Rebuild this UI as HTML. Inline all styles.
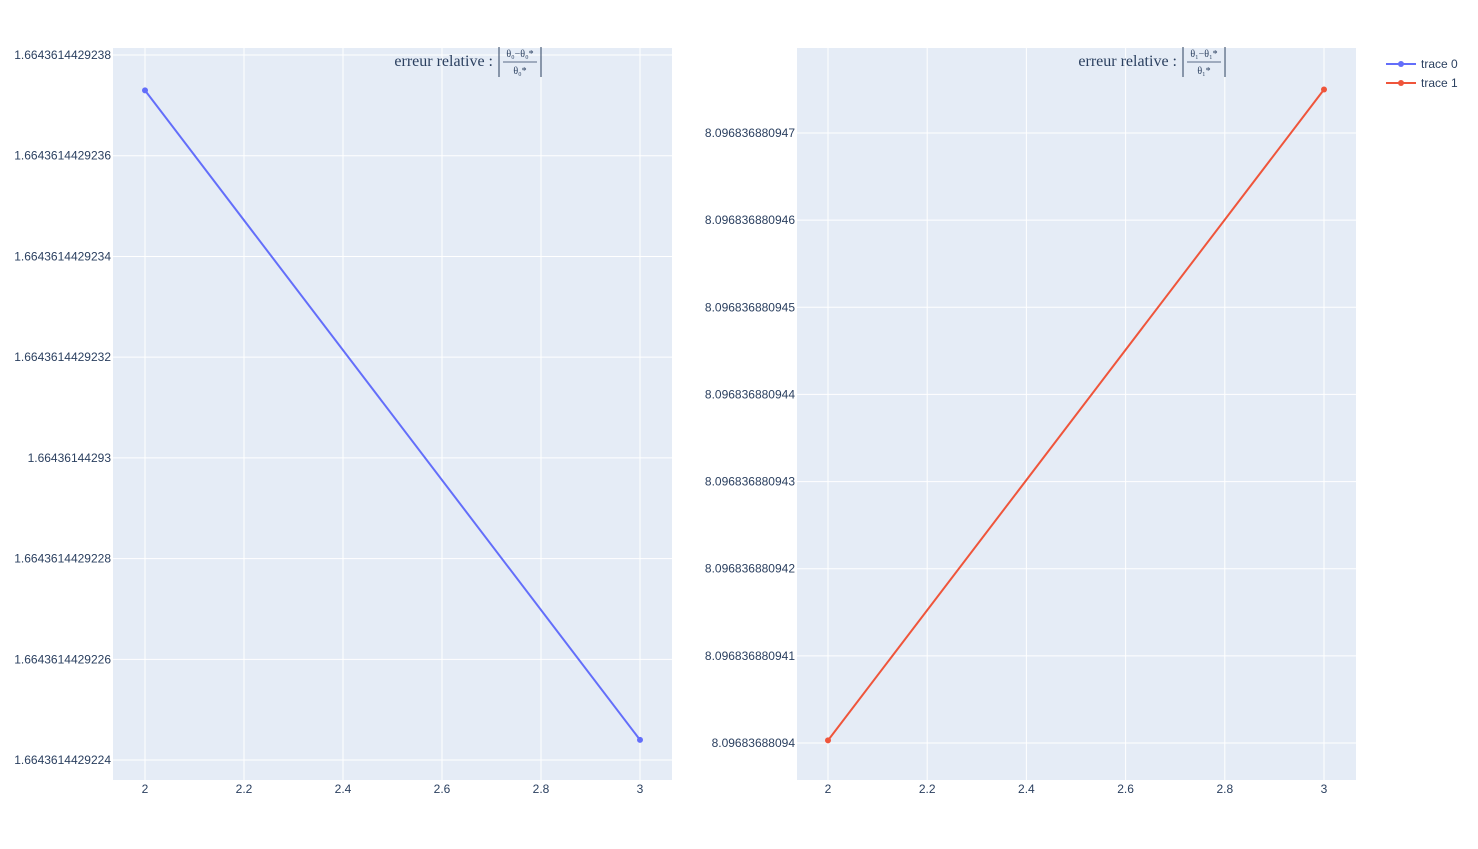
<!DOCTYPE html>
<html><head><meta charset="utf-8"><style>
body{margin:0;background:#fff;}
svg text{font-family:"Liberation Sans",sans-serif;fill:#2a3f5f;}
</style></head><body>
<svg id="chart" width="1478" height="844" xmlns="http://www.w3.org/2000/svg"></svg>
<script>
const xValues = [2, 3];
const xTicks = [2, 2.2, 2.4, 2.6, 2.8, 3];
const xTickLabels = ["2","2.2","2.4","2.6","2.8","3"];
const trace0Values = [1.66436144292373, 1.66436144292244];
const trace1Values = [8.09683688094003, 8.0968368809475];
const leftTicks = [1.6643614429238,1.6643614429236,1.6643614429234,1.6643614429232,1.664361442923,1.6643614429228,1.6643614429226,1.6643614429224];
const leftTickLabels = ["1.6643614429238","1.6643614429236","1.6643614429234","1.6643614429232","1.66436144293","1.6643614429228","1.6643614429226","1.6643614429224"];
const rightTicks = [8.096836880947,8.096836880946,8.096836880945,8.096836880944,8.096836880943,8.096836880942,8.096836880941,8.09683688094];
const rightTickLabels = ["8.096836880947","8.096836880946","8.096836880945","8.096836880944","8.096836880943","8.096836880942","8.096836880941","8.09683688094"];

const NS="http://www.w3.org/2000/svg";
const svg=document.getElementById('chart');
function el(t,a,p){const e=document.createElementNS(NS,t);for(const k in a)e.setAttribute(k,a[k]);(p||svg).appendChild(e);return e;}

function panel(cfg){
  const g=el('g',{});
  
  
  const bg=el('rect',{x:cfg.x0,y:48,width:cfg.x1-cfg.x0,height:732,fill:'#e5ecf6'},g);
  
  
  const sx=v=>cfg.px2+(v-2)*(cfg.px3-cfg.px2);
  const sy=v=>cfg.ya+(v-cfg.va)*(cfg.yb-cfg.ya)/(cfg.vb-cfg.va);
  xTicks.forEach((t,i)=>{
    el('line',{x1:sx(t),x2:sx(t),y1:48,y2:780,stroke:'#fff','stroke-width':1},g);
    const tx=el('text',{x:sx(t),y:793,'font-size':12,'text-anchor':'middle'},g);
    tx.textContent=xTickLabels[i];
    
    
  });
  cfg.ticks.forEach((t,i)=>{
    el('line',{x1:cfg.x0,x2:cfg.x1,y1:sy(t),y2:sy(t),stroke:'#fff','stroke-width':1},g);
    const tx=el('text',{x:cfg.x0-2,y:sy(t)+4,'font-size':12,'text-anchor':'end'},g);
    tx.textContent=cfg.labels[i];
    
    
  });
  const pts=xValues.map((x,i)=>sx(x)+','+sy(cfg.vals[i])).join(' ');
  const ln=el('polyline',{points:pts,fill:'none',stroke:cfg.color,'stroke-width':2},g);
  
  
  xValues.forEach((x,i)=>{
    const c=el('circle',{cx:sx(x),cy:sy(cfg.vals[i]),r:3,fill:cfg.color},g);
    
    
  });
  const t=el('text',{x:cfg.tx,y:66,'font-size':16,'text-anchor':'end'},g);
  t.style.fontFamily='"Liberation Serif",serif';
  t.textContent='erreur relative :';
  
  
  const fx=cfg.tx+6;
  el('line',{x1:fx,x2:fx,y1:47,y2:77,stroke:'#2a3f5f','stroke-width':1},g);
  el('line',{x1:fx+42,x2:fx+42,y1:47,y2:77,stroke:'#2a3f5f','stroke-width':1},g);
  el('line',{x1:fx+4,x2:fx+38,y1:62,y2:62,stroke:'#2a3f5f','stroke-width':0.8},g);
  const n=el('text',{x:fx+21,y:57,'font-size':10,'text-anchor':'middle'},g);
  n.style.fontFamily='"Liberation Serif",serif';
  n.textContent=cfg.num;
  const d=el('text',{x:fx+21,y:74,'font-size':10,'text-anchor':'middle'},g);
  d.style.fontFamily='"Liberation Serif",serif';
  d.textContent=cfg.den;
}
panel({name:'left-subplot',series:'trace-0',x0:113,x1:672,px2:145,px3:640,ya:55,va:leftTicks[0],yb:760,vb:leftTicks[7],ticks:leftTicks,labels:leftTickLabels,vals:trace0Values,color:'#636efa',tx:493,num:'θ₀−θ₀*',den:'θ₀*'});
panel({name:'right-subplot',series:'trace-1',x0:797,x1:1356,px2:828,px3:1324,ya:133,va:rightTicks[0],yb:743,vb:rightTicks[7],ticks:rightTicks,labels:rightTickLabels,vals:trace1Values,color:'#ef553b',tx:1177,num:'θ₁−θ₁*',den:'θ₁*'});

[['trace 0','#636efa',64],['trace 1','#ef553b',83]].forEach(([lab,col,y],i)=>{
  const g=el('g',{});
  
  
  el('line',{x1:1386,x2:1416,y1:y,y2:y,stroke:col,'stroke-width':2},g);
  el('circle',{cx:1401,cy:y,r:3,fill:col},g);
  const t=el('text',{x:1421,y:y+4,'font-size':12},g);
  t.textContent=lab;
});
</script>
</body></html>
